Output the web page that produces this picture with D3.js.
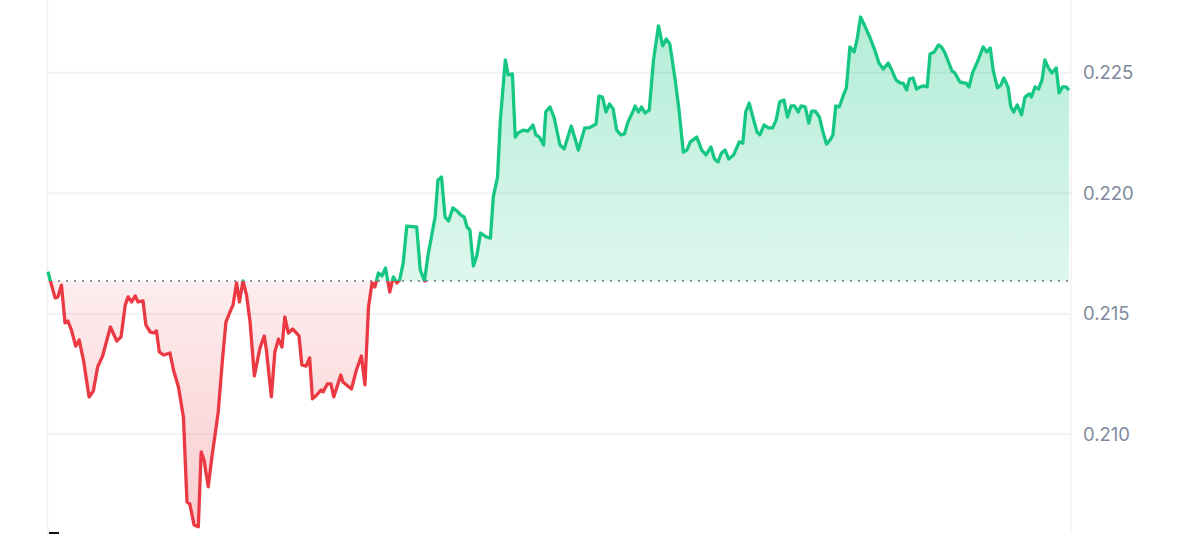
<!DOCTYPE html>
<html>
<head>
<meta charset="utf-8">
<script src="https://cdn.jsdelivr.net/npm/d3@7"></script>
<style>
  html, body { margin: 0; padding: 0; background: #fff; }
  svg { display: block; font-family: Inter, "Noto Sans", sans-serif; }
</style>
</head>
<body>
<div id="chart-area"></div>
<script>
// minutes since the start of the day
const times = [
  0, 3, 10, 14, 19, 24, 28, 33, 39, 44, 50, 58, 64, 70, 77, 88, 97, 103, 109, 113,
  118, 123, 127, 134, 138, 144, 149, 153, 157, 163, 172, 177, 184, 191, 196, 200, 206, 212, 216, 220,
  226, 231, 240, 246, 251, 259, 261, 266, 270, 275, 280, 285, 291, 299, 305, 308, 315, 320, 325, 330,
  334, 339, 345, 354, 358, 364, 369, 373, 379, 385, 388, 394, 399, 403, 413, 416, 428, 435, 442, 447,
  452, 457, 461, 466, 471, 476, 482, 487, 492, 496,
  501, 506, 520, 525, 531, 536, 546, 550, 555, 560, 565, 571, 577, 582, 587, 591, 595, 600, 605, 610,
  618, 624, 628, 634, 638, 645, 649, 655, 659, 663, 670, 677, 684, 688, 693, 699, 702, 708, 714, 722,
  728, 738, 748, 757, 763, 773, 777, 782, 787, 792, 797, 802, 808, 813, 818, 826, 828, 833, 837, 842,
  848, 854, 861, 867, 872, 877, 884, 890, 896, 901, 906, 915, 922, 928, 935, 940, 945, 950, 955, 960,
  967, 975, 980, 984, 989, 996, 1000, 1004, 1010, 1016, 1022, 1027, 1032, 1038, 1043, 1048, 1053, 1058, 1062, 1068,
  1073, 1077, 1082, 1088, 1093, 1098, 1103, 1107, 1111, 1116, 1122, 1126, 1131, 1137, 1141, 1146, 1152, 1159, 1166, 1172,
  1178, 1185, 1190, 1196, 1202, 1206, 1211, 1215, 1220, 1225, 1230, 1235, 1240, 1244, 1250, 1256, 1260, 1265, 1275, 1279,
  1286, 1292, 1295, 1299, 1304, 1312, 1319, 1324, 1329, 1333, 1339, 1344, 1348, 1354, 1358, 1362, 1367, 1373, 1378, 1384,
  1387, 1392, 1397, 1402, 1406, 1411, 1416, 1422, 1426, 1431, 1436, 1440
];

const prices = [
  0.21675, 0.21640, 0.21566, 0.21570, 0.21619, 0.21462, 0.21470, 0.21433, 0.21366, 0.21391,
  0.21308, 0.21155, 0.21180, 0.21279, 0.21325, 0.21445, 0.21387, 0.21404, 0.21537, 0.21570,
  0.21549, 0.21574, 0.21549, 0.21553, 0.21454, 0.21425, 0.21420, 0.21429, 0.21342, 0.21329,
  0.21337, 0.21267, 0.21196, 0.21072, 0.20719, 0.20711, 0.20624, 0.20616, 0.20927, 0.20894,
  0.20782, 0.20902, 0.21089, 0.21308, 0.21466, 0.21524, 0.21537, 0.21628, 0.21549, 0.21636,
  0.21578, 0.21466, 0.21242, 0.21358, 0.21408, 0.21350, 0.21155, 0.21342, 0.21395, 0.21362,
  0.21487, 0.21420, 0.21437, 0.21408, 0.21288, 0.21283, 0.21317, 0.21147, 0.21163, 0.21184,
  0.21176, 0.21209, 0.21209, 0.21155, 0.21246, 0.21217, 0.21188, 0.21267, 0.21325, 0.21205,
  0.21528, 0.21628, 0.21611, 0.21669, 0.21657, 0.21690, 0.21590, 0.21653, 0.21628, 0.21640,
  0.21711, 0.21864, 0.21860, 0.21682, 0.21636, 0.21744, 0.21902, 0.22055, 0.22067, 0.21902,
  0.21885, 0.21939, 0.21926, 0.21910, 0.21902, 0.21860, 0.21848, 0.21698, 0.21744, 0.21835,
  0.21819, 0.21814, 0.21984, 0.22067, 0.22304, 0.22553, 0.22491, 0.22495, 0.22233, 0.22250,
  0.22262, 0.22258, 0.22283, 0.22242, 0.22233, 0.22200, 0.22337, 0.22358, 0.22312, 0.22200,
  0.22184, 0.22279, 0.22179, 0.22271, 0.22271, 0.22287, 0.22403, 0.22399, 0.22337, 0.22370,
  0.22350, 0.22262, 0.22242, 0.22246, 0.22296, 0.22345, 0.22362, 0.22337, 0.22358, 0.22333,
  0.22345, 0.22553, 0.22694, 0.22611, 0.22640, 0.22619, 0.22482, 0.22345, 0.22171, 0.22179,
  0.22213, 0.22233, 0.22179, 0.22159, 0.22192, 0.22142, 0.22130, 0.22167, 0.22179, 0.22142,
  0.22159, 0.22213, 0.22208, 0.22337, 0.22374, 0.22296, 0.22254, 0.22242, 0.22283, 0.22271,
  0.22271, 0.22304, 0.22379, 0.22387, 0.22316, 0.22362, 0.22362, 0.22337, 0.22362, 0.22358,
  0.22291, 0.22341, 0.22341, 0.22316, 0.22254, 0.22204, 0.22221, 0.22242, 0.22362, 0.22358,
  0.22408, 0.22437, 0.22607, 0.22586, 0.22636, 0.22731, 0.22694, 0.22648, 0.22594, 0.22540,
  0.22515, 0.22540, 0.22511, 0.22470, 0.22457, 0.22457, 0.22428, 0.22474, 0.22478, 0.22432,
  0.22441, 0.22445, 0.22441, 0.22578, 0.22586, 0.22615, 0.22607, 0.22582, 0.22507, 0.22499,
  0.22462, 0.22457, 0.22457, 0.22441, 0.22499, 0.22553, 0.22607, 0.22586, 0.22603, 0.22511,
  0.22437, 0.22449, 0.22478, 0.22441, 0.22358, 0.22337, 0.22366, 0.22325, 0.22399, 0.22412,
  0.22399, 0.22441, 0.22432, 0.22470, 0.22553, 0.22520, 0.22499, 0.22520, 0.22416, 0.22441,
  0.22441, 0.22428
];

const openPrice = 0.21636;
const yTicks = [0.210, 0.215, 0.220, 0.225];

const WIDTH = 1200;
const HEIGHT = 534;
const plot = { left: 48, right: 1069, top: 0, bottom: 534 };

const data = times.map((t, i) => ({ t: t, v: prices[i] }));

const svg = d3.select("#chart-area").append("svg")
  .attr("width", WIDTH).attr("height", HEIGHT);

var x = d3.scaleLinear().domain([0, 1440]).range([plot.left, plot.right]);
var y = d3.scaleLinear().domain([0.205864, 0.228016]).range([plot.bottom, plot.top]);

const defs = svg.append("defs");
const baseY = y(openPrice);

defs.append("clipPath").attr("id", "clip-up").append("rect")
  .attr("x", 0).attr("y", 0).attr("width", WIDTH).attr("height", baseY);
defs.append("clipPath").attr("id", "clip-down").append("rect")
  .attr("x", 0).attr("y", baseY).attr("width", WIDTH).attr("height", HEIGHT - baseY);

const gUp = defs.append("linearGradient").attr("id", "grad-up")
  .attr("gradientUnits", "userSpaceOnUse").attr("x1", 0).attr("x2", 0).attr("y1", 0).attr("y2", baseY);
gUp.append("stop").attr("offset", 0).attr("stop-color", "#16c784").attr("stop-opacity", 0.34);
gUp.append("stop").attr("offset", 1).attr("stop-color", "#16c784").attr("stop-opacity", 0.14);

const gDown = defs.append("linearGradient").attr("id", "grad-down")
  .attr("gradientUnits", "userSpaceOnUse").attr("x1", 0).attr("x2", 0).attr("y1", baseY).attr("y2", HEIGHT);
gDown.append("stop").attr("offset", 0).attr("stop-color", "#ea3943").attr("stop-opacity", 0.09);
gDown.append("stop").attr("offset", 1).attr("stop-color", "#ea3943").attr("stop-opacity", 0.26);

// grid
svg.append("g").selectAll("line").data(yTicks).enter().append("line")
  .attr("x1", plot.left).attr("x2", 1071)
  .attr("y1", d => y(d)).attr("y2", d => y(d))
  .attr("stroke", "#eff2f5").attr("stroke-width", 2);

// vertical borders
svg.append("line").attr("x1", 47.5).attr("x2", 47.5).attr("y1", 0).attr("y2", HEIGHT)
  .attr("stroke", "#eff2f5").attr("stroke-width", 1.5);
svg.append("line").attr("x1", 1071).attr("x2", 1071).attr("y1", 0).attr("y2", HEIGHT)
  .attr("stroke", "#eff2f5").attr("stroke-width", 1.5);

const area = d3.area().x(d => x(d.t)).y0(baseY).y1(d => y(d.v));
const line = d3.line().x(d => x(d.t)).y(d => y(d.v));

svg.append("path").datum(data).attr("d", area)
  .attr("fill", "url(#grad-up)").attr("clip-path", "url(#clip-up)");
svg.append("path").datum(data).attr("d", area)
  .attr("fill", "url(#grad-down)").attr("clip-path", "url(#clip-down)");

// dotted open price
svg.append("line").attr("x1", plot.left + 2).attr("x2", 1069)
  .attr("y1", baseY).attr("y2", baseY)
  .attr("stroke", "#8a92a3").attr("stroke-width", 2).attr("stroke-dasharray", "2,6");

svg.append("path").datum(data).attr("d", line)
  .attr("fill", "none").attr("stroke", "#16c784").attr("stroke-width", 3.3)
  .attr("stroke-linejoin", "round").attr("clip-path", "url(#clip-up)");
svg.append("path").datum(data).attr("d", line)
  .attr("fill", "none").attr("stroke", "#ea3943").attr("stroke-width", 3.3)
  .attr("stroke-linejoin", "round").attr("clip-path", "url(#clip-down)");

// y axis labels on the right
const yAxisCall = d3.axisRight(y).tickValues(yTicks).tickSize(0).tickPadding(0).tickFormat(d3.format(".3f"));
const yAxisGroup = svg.append("g").attr("transform", `translate(1083,0)`).call(yAxisCall);
yAxisGroup.select(".domain").remove();
yAxisGroup.selectAll("text").attr("font-size", "18.5px").attr("fill", "#808a9d")
  .attr("font-family", "Inter, 'Noto Sans', sans-serif");

// small mark at bottom left
svg.append("rect").attr("x", 49).attr("y", 532).attr("width", 10).attr("height", 2).attr("fill", "#111");
</script>
</body>
</html>
